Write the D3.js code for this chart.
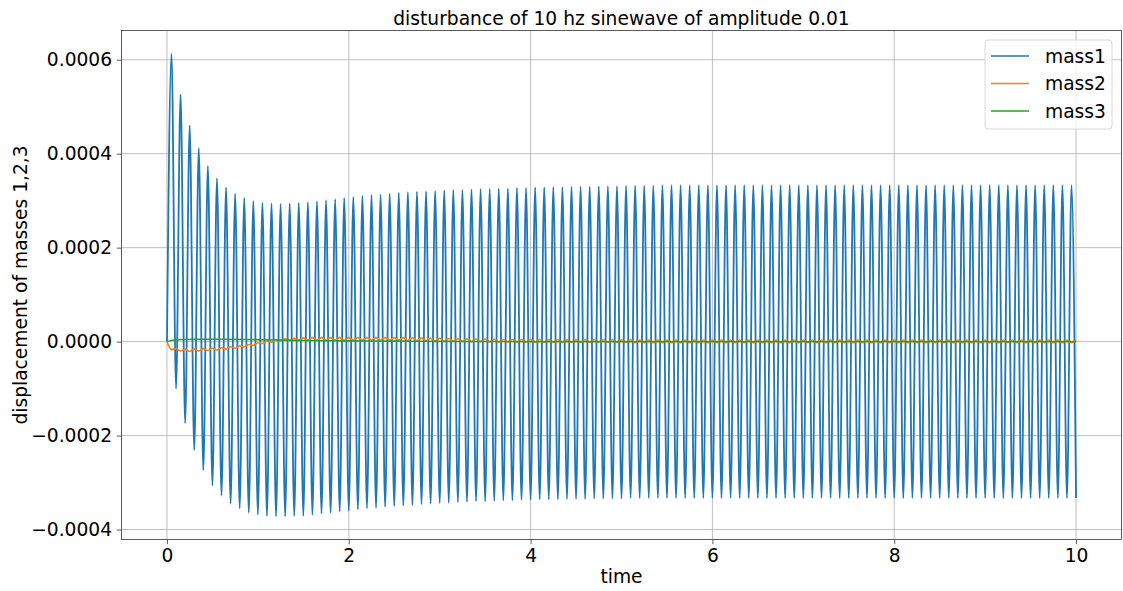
<!DOCTYPE html>
<html>
<head>
<meta charset="utf-8">
<script src="https://cdn.jsdelivr.net/npm/d3@7"></script>
<style>
  html, body { margin: 0; padding: 0; background: #ffffff; }
  svg { display: block; }
  text { font-family: "DejaVu Sans", sans-serif; fill: #000; }
</style>
</head>
<body>
<svg id="chart" width="1123" height="591"></svg>
<script>
// ---------------- DATA ----------------
const TITLE = "disturbance of 10 hz sinewave of amplitude 0.01";
const X_LABEL = "time";
const Y_LABEL = "displacement of masses 1,2,3";
const SERIES_NAMES = ["mass1", "mass2", "mass3"];
const X_TICKS = [0, 2, 4, 6, 8, 10];
const Y_TICKS = [-0.0004, -0.0002, 0.0000, 0.0002, 0.0004, 0.0006];
const Y_TICK_LABELS = ["\u22120.0004", "\u22120.0002", "0.0000", "0.0002", "0.0004", "0.0006"];

// time of each oscillation cycle's start (seconds)
const CYCLE_START = d3.range(100).map(k => +(k * 0.1).toFixed(2));

// mass1: local maxima (at cycle start + 0.05 s), values in units of 1e-6
const mass1Peaks = [
  613,526,460,412,374,348,328,315,306,299,
  296,294,293,294,296,297,299,301,303,306,
  308,310,312,313,315,317,318,319,320,321,
  322,323,323,324,325,325,326,326,327,327,
  328,328,329,329,330,330,330,331,331,331,
  332,332,332,332,333,333,333,333,333,333,
  333,333,333,333,333,333,333,333,333,333,
  333,333,333,333,333,333,333,333,333,333,
  333,333,333,333,333,333,333,333,333,333,
  333,333,333,333,333,333,333,333,333,333
];
// mass1: local minima (at cycle start + 0.1 s), values in units of 1e-6
const mass1Troughs = [
  -100,-174,-231,-274,-306,-328,-345,-355,-364,-368,
  -371,-372,-372,-371,-371,-369,-366,-364,-362,-360,
  -357,-355,-354,-352,-350,-349,-348,-346,-345,-344,
  -343,-342,-341,-340,-340,-339,-338,-338,-337,-337,
  -336,-336,-336,-335,-335,-335,-334,-334,-334,-334,
  -333,-333,-333,-333,-333,-333,-333,-333,-333,-333,
  -333,-333,-333,-333,-333,-333,-333,-333,-333,-333,
  -333,-333,-333,-333,-333,-333,-333,-333,-333,-333,
  -333,-333,-333,-333,-333,-333,-333,-333,-333,-333,
  -333,-333,-333,-333,-333,-333,-333,-333,-333,-333
];
// mass2: local minima (at cycle start + 0.05 s), units of 1e-6
const mass2Lows = [
  -17,-20,-21,-20,-19,-18,-16,-14,-11,-8,
  -4,-1,1,2,3,3,3,3,3,3,
  3,3,3,3,3,3,2.5,2,2,1.5,
  1,1,0.5,0,0,-0.5,-1,-1,-1,-1,
  -1,-1.5,-1.5,-1.5,-1.5,-1.5,-1.5,-1.5,-1.5,-1.5,
  -2,-2.5,-2.5,-2.5,-2.5,-2.5,-2.5,-2.5,-2.5,-2.5,
  -2.5,-2.5,-2.5,-2.5,-2.5,-2.5,-2.5,-2.5,-2.5,-2.5,
  -2.5,-2.5,-2.5,-2.5,-2.5,-2.5,-2.5,-2.5,-2.5,-2.5,
  -2.5,-2.5,-2.5,-2.5,-2.5,-2.5,-2.5,-2.5,-2.5,-2.5,
  -2.5,-2.5,-2.5,-2.5,-2.5,-2.5,-2.5,-2.5,-2.5,-2.5
];
// mass2: local maxima (at cycle start + 0.1 s), units of 1e-6
const mass2Highs = [
  -15,-16,-16,-15,-14,-13,-11,-9,-6,-3,
  1,4,6,7,8,8.5,8.5,8.5,8.5,8.5,
  8.5,8.5,8.5,8.5,8.5,8.5,8,7.5,7,7,
  6.5,6,6,5.5,5.5,5,4.5,4.5,4.5,4.5,
  4.5,4,4,4,4,4,4,4,4,4,
  4,3.5,3.5,3.5,3.5,3.5,3.5,3.5,3.5,3.5,
  3.5,3.5,3.5,3.5,3.5,3.5,3.5,3.5,3.5,3.5,
  3.5,3.5,3.5,3.5,3.5,3.5,3.5,3.5,3.5,3.5,
  3.5,3.5,3.5,3.5,3.5,3.5,3.5,3.5,3.5,3.5,
  3.5,3.5,3.5,3.5,3.5,3.5,3.5,3.5,3.5,3.5
];
// mass3: slow drift, units of 1e-6
const mass3Times  = [0, 0.1, 0.3, 0.6, 0.9, 1.2, 1.5, 2.0, 2.5, 3.0, 4.0, 10.0];
const mass3Values = [0, 4, 5, 5, 4.5, 3.5, 2.5, 1.5, 1, 0.5, 0, 0];

const UNIT = 1e-6;
const COLORS = ["#1f77b4", "#ff7f0e", "#2ca02c"];

// ---------------- BUILD SERIES ----------------
function alternating(firstVals, secondVals) {
  const pts = [[0, 0]];
  CYCLE_START.forEach((t0, k) => {
    pts.push([t0 + 0.05, firstVals[k] * UNIT]);
    pts.push([t0 + 0.1, secondVals[k] * UNIT]);
  });
  return pts;
}
const series = [
  alternating(mass1Peaks, mass1Troughs),
  alternating(mass2Lows, mass2Highs),
  mass3Times.map((t, i) => [t, mass3Values[i] * UNIT])
];

// ---------------- LAYOUT ----------------
const svg = d3.select("#chart");
const M = { left: 121.5, right: 1121.5, top: 30.5, bottom: 539.5 };

const allY = series.flat().map(d => d[1]);
const yMin = d3.min(allY), yMax = d3.max(allY);
const yPad = (yMax - yMin) * 0.05;

const x = d3.scaleLinear().domain([-0.5, 10.5]).range([M.left, M.right]);
const y = d3.scaleLinear().domain([yMin - yPad, yMax + yPad]).range([M.bottom, M.top]);

const FS = 18.67;

// grid
const grid = svg.append("g").attr("stroke", "#b0b0b0").attr("stroke-width", 0.8);
X_TICKS.forEach(t => {
  grid.append("line").attr("x1", x(t)).attr("x2", x(t)).attr("y1", M.top).attr("y2", M.bottom);
});
Y_TICKS.forEach(t => {
  grid.append("line").attr("x1", M.left).attr("x2", M.right).attr("y1", y(t)).attr("y2", y(t));
});

// clip
svg.append("clipPath").attr("id", "clip").append("rect")
  .attr("x", M.left).attr("y", M.top).attr("width", M.right - M.left).attr("height", M.bottom - M.top);

const line = d3.line().x(d => x(d[0])).y(d => y(d[1])).curve(d3.curveMonotoneX);
const plot = svg.append("g").attr("clip-path", "url(#clip)");
series.forEach((s, i) => {
  plot.append("path").datum(s)
    .attr("d", line)
    .attr("fill", "none")
    .attr("stroke", COLORS[i])
    .attr("stroke-width", i === 0 ? 1.8 : 1.6)
    .attr("stroke-linejoin", "round");
});

// axes
const xAxis = d3.axisBottom(x).tickValues(X_TICKS).tickFormat(d3.format("d")).tickSize(4.7).tickPadding(4.7);
const yAxis = d3.axisLeft(y).tickValues(Y_TICKS).tickFormat((d, i) => Y_TICK_LABELS[i]).tickSize(4.7).tickPadding(4.7);

const gx = svg.append("g").attr("transform", `translate(0,${M.bottom})`).call(xAxis);
const gy = svg.append("g").attr("transform", `translate(${M.left},0)`).call(yAxis);
[gx, gy].forEach(g => {
  g.select(".domain").remove();
  g.selectAll(".tick line").attr("stroke", "#333").attr("stroke-width", 0.8);
  g.selectAll(".tick text").attr("font-size", FS).attr("font-family", "DejaVu Sans").attr("fill", "#000");
});

// frame
svg.append("rect")
  .attr("x", M.left).attr("y", M.top)
  .attr("width", M.right - M.left).attr("height", M.bottom - M.top)
  .attr("fill", "none").attr("stroke", "#333").attr("stroke-width", 0.8);

// title & labels
svg.append("text").attr("x", (M.left + M.right) / 2).attr("y", 25)
  .attr("text-anchor", "middle").attr("font-size", FS).text(TITLE);
svg.append("text").attr("x", (M.left + M.right) / 2).attr("y", 583)
  .attr("text-anchor", "middle").attr("font-size", FS).text(X_LABEL);
svg.append("text")
  .attr("transform", `translate(27,${(M.top + M.bottom) / 2}) rotate(-90)`)
  .attr("text-anchor", "middle").attr("font-size", FS).text(Y_LABEL);

// legend
const lg = svg.append("g");
lg.append("rect").attr("x", 985).attr("y", 40).attr("width", 127).attr("height", 89)
  .attr("rx", 3).attr("fill", "#ffffff").attr("fill-opacity", 0.8)
  .attr("stroke", "#d9d9d9").attr("stroke-width", 1);
SERIES_NAMES.forEach((name, i) => {
  const cy = 56 + i * 27.5;
  lg.append("line").attr("x1", 991).attr("x2", 1029).attr("y1", cy).attr("y2", cy)
    .attr("stroke", COLORS[i]).attr("stroke-width", 1.5);
  lg.append("text").attr("x", 1045).attr("y", cy).attr("dy", "0.35em")
    .attr("font-size", FS).text(name);
});
</script>
</body>
</html>
